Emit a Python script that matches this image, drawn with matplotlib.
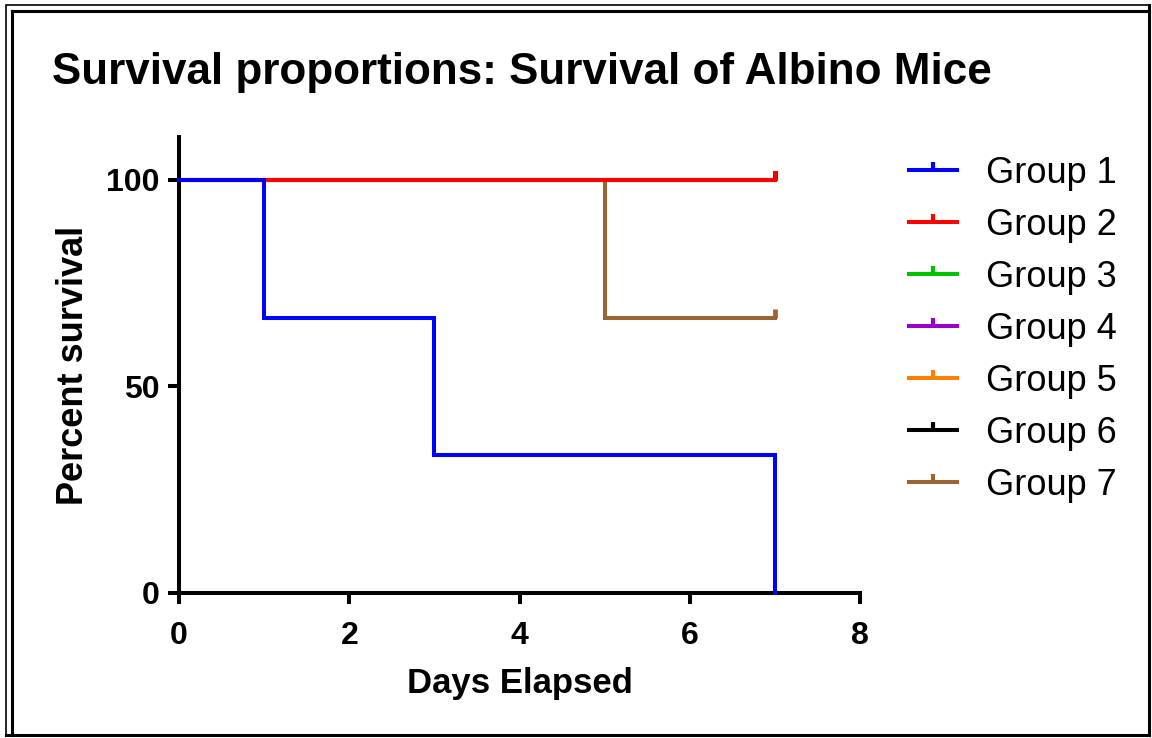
import matplotlib
matplotlib.use("Agg")
import matplotlib.pyplot as plt
from matplotlib.path import Path
from matplotlib.lines import Line2D

plt.rcParams['font.family'] = ['Liberation Sans', 'DejaVu Sans']

# ---- data ----
groups = ["Group 1", "Group 2", "Group 3", "Group 4", "Group 5", "Group 6", "Group 7"]
colors = ["#0000ff", "#ff0000", "#00c000", "#9900cc", "#ff8000", "#000000", "#996633"]
# step times and survival percentages (Kaplan-Meier)
g1_t = [0, 1, 1, 3, 3, 7, 7]
g1_s = [100, 100, 66.67, 66.67, 33.33, 33.33, 0]
g_full_t = [0, 7]
g_full_s = [100, 100]
g7_t = [0, 5, 5, 7]
g7_s = [100, 100, 66.67, 66.67]
censor_g2 = (7, 100)
censor_g7 = (7, 66.67)
censor_g36 = (7, 100)

xticks = [0, 2, 4, 6, 8]
yticks = [0, 50, 100]

W, H = 1152, 738
fig = plt.figure(figsize=(W / 100, H / 100), dpi=100)
ax = fig.add_axes([179 / W, 1 - 593 / H, (860 - 179) / W, (593 - 137) / H])

tick_marker = Path([(0, 0), (0, 1)])
lw = 2.9

series = [(g1_t, g1_s, None),
          (g_full_t, g_full_s, censor_g2),
          (g_full_t, g_full_s, censor_g36),
          (g_full_t, g_full_s, censor_g36),
          (g_full_t, g_full_s, censor_g36),
          (g_full_t, g_full_s, censor_g36),
          (g7_t, g7_s, censor_g7)]
zorders = [10, 9, 3, 3, 3, 3, 5]
for (t, s, cen), c, z in zip(series, colors, zorders):
    ax.plot(t, s, color=c, lw=lw, solid_joinstyle='miter', clip_on=False, zorder=z)
    if cen is not None:
        ax.plot([cen[0]], [cen[1]], marker=tick_marker, markersize=13, mew=3.4,
                color=c, clip_on=False, zorder=z, linestyle='none')

ax.set_xlim(0, 8)
ax.set_ylim(0, 110.4)
ax.set_xticks(xticks)
ax.set_yticks(yticks)
for sp in ['top', 'right']:
    ax.spines[sp].set_visible(False)
for sp in ['left', 'bottom']:
    ax.spines[sp].set_linewidth(2.9)
ax.tick_params(axis='both', direction='out', length=8, width=2.9, labelsize=23)
ax.tick_params(axis='x', pad=12.5)
ax.tick_params(axis='y', pad=6)
for lab in ax.get_xticklabels() + ax.get_yticklabels():
    lab.set_fontweight('bold')
ax.set_xlabel("Days Elapsed", fontsize=25, fontweight='bold', labelpad=11)
ax.set_ylabel("Percent survival", fontsize=26, fontweight='bold', labelpad=11)

fig.text(52 / W, 1 - 84 / H, "Survival proportions: Survival of Albino Mice",
         fontsize=31.7, fontweight='bold', va='baseline', ha='left')

handles = [Line2D([0], [0], color=c, lw=lw, marker=tick_marker, markersize=12, mew=3.0)
           for c in colors]
fig.legend(handles, groups, loc='upper left', bbox_to_anchor=(909 / W, 1 - 156 / H),
           frameon=False, fontsize=26, handlelength=1.33, handletextpad=0.8,
           labelspacing=0.47, borderaxespad=0, borderpad=0, numpoints=1)

# double frame border
fig.add_artist(plt.Rectangle((6 / W, 1 - 735 / H), (1149 - 6) / W, (735 - 5) / H,
                             transform=fig.transFigure, fill=False, lw=1.2, ec='black'))
fig.add_artist(Line2D([11.5 / W, 11.5 / W], [1 - 735 / H, 1 - 11 / H],
                      transform=fig.transFigure, color='black', lw=2.2))
fig.add_artist(Line2D([11.5 / W, 1149 / W], [1 - 11 / H, 1 - 11 / H],
                      transform=fig.transFigure, color='black', lw=2.2))
fig.add_artist(Line2D([1148.5 / W, 1148.5 / W], [1 - 735 / H, 1 - 5 / H],
                      transform=fig.transFigure, color='black', lw=2.2))
fig.add_artist(Line2D([6 / W, 1149 / W], [1 - 734.5 / H, 1 - 734.5 / H],
                      transform=fig.transFigure, color='black', lw=2.2))

fig.savefig("out.png", dpi=100)
